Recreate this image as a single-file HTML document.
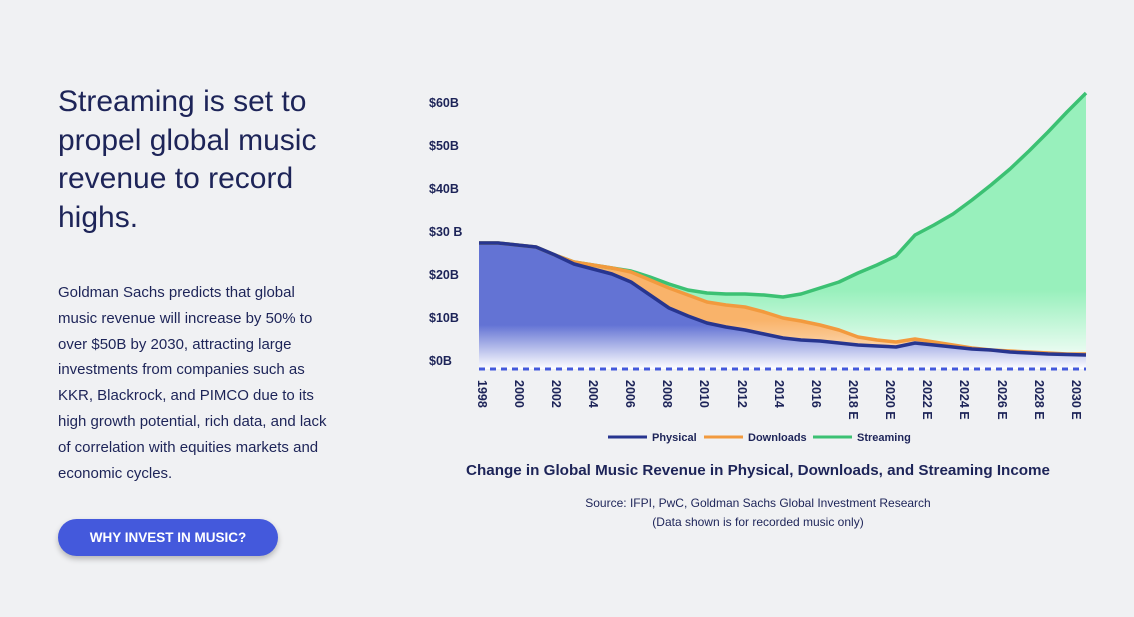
<!DOCTYPE html>
<html><head><meta charset="utf-8"><style>
body{margin:0;width:1134px;height:617px;background:#f0f1f3;font-family:"Liberation Sans",sans-serif;color:#1d2458;position:relative;overflow:hidden}
h1{position:absolute;left:58px;top:83px;margin:0;font-weight:normal;font-size:30px;line-height:38.5px;width:320px;white-space:nowrap}
p{position:absolute;left:58px;top:280px;margin:0;font-size:15px;line-height:25.8px;width:320px;white-space:nowrap}
.btn{position:absolute;left:58px;top:519px;width:220px;height:37px;border-radius:19px;background:#4459dc;color:#fff;font-weight:bold;font-size:13.5px;text-align:center;line-height:37px;box-shadow:0 3px 6px rgba(0,0,0,.25)}
svg{position:absolute;left:0;top:0}
</style></head><body>
<h1>Streaming is set to<br>propel global music<br>revenue to record<br>highs.</h1>
<p>Goldman Sachs predicts that global<br>music revenue will increase by 50% to<br>over $50B by 2030, attracting large<br>investments from companies such as<br>KKR, Blackrock, and PIMCO due to its<br>high growth potential, rich data, and lack<br>of correlation with equities markets and<br>economic cycles.</p>
<div class="btn">WHY INVEST IN MUSIC?</div>
<svg width="1134" height="617" font-family="Liberation Sans, sans-serif">
<defs>
<linearGradient id="gg" gradientUnits="userSpaceOnUse" x1="0" y1="290" x2="0" y2="369"><stop offset="0" stop-color="#98f0bc"/><stop offset="1" stop-color="#ffffff"/></linearGradient>
<linearGradient id="bg" gradientUnits="userSpaceOnUse" x1="0" y1="325" x2="0" y2="369"><stop offset="0" stop-color="#6373d4"/><stop offset="1" stop-color="#ffffff"/></linearGradient>
<linearGradient id="og" gradientUnits="userSpaceOnUse" x1="0" y1="320" x2="0" y2="360"><stop offset="0" stop-color="#f9b36a"/><stop offset="1" stop-color="#fde2c4"/></linearGradient>
</defs>
<g font-size="12.5" font-weight="bold" fill="#1d2458">
<text x="429" y="107">$60B</text><text x="429" y="150">$50B</text><text x="429" y="193">$40B</text><text x="429" y="236">$30 B</text><text x="429" y="279">$20B</text><text x="429" y="322">$10B</text><text x="429" y="365">$0B</text>
</g>
<polygon fill="url(#gg)" points="479,369 479,243 498,243 517,245 536,247 555,255 574,262 593,265 612,268 631,271 650,277 669,284 688,290 707,293 726,294 745,294 764,295 783,297 801,294 820,288 839,282 858,273 877,265 896,256 915,235 934,225 953,214 972,200 991,185 1010,169 1029,151 1048,132 1067,112 1086,93 1086,369"/>
<polygon fill="url(#og)" points="479,369 479,243 498,243 517,245 536,247 555,255 574,262 593,265 612,268 631,272 650,280 669,288 688,295 707,302 726,305 745,307 764,312 783,318 801,321 820,325 839,330 858,337 877,340 896,342 915,339 934,342 953,345 972,348 991,350 1010,351 1029,352 1048,353 1067,354 1086,354 1086,369"/>
<polygon fill="url(#bg)" points="479,369 479,243 498,243 517,245 536,247 555,255 574,264 593,269 612,274 631,282 650,295 669,308 688,316 707,323 726,327 745,330 764,334 783,338 801,340 820,341 839,343 858,345 877,346 896,347 915,343 934,345 953,347 972,349 991,350 1010,352 1029,353 1048,354 1067,354.5 1086,355 1086,369"/>
<polyline fill="none" stroke="#3cc173" stroke-width="3.5" stroke-linejoin="round" points="479,243 498,243 517,245 536,247 555,255 574,262 593,265 612,268 631,271 650,277 669,284 688,290 707,293 726,294 745,294 764,295 783,297 801,294 820,288 839,282 858,273 877,265 896,256 915,235 934,225 953,214 972,200 991,185 1010,169 1029,151 1048,132 1067,112 1086,93"/>
<polyline fill="none" stroke="#f29a3e" stroke-width="3.5" stroke-linejoin="round" points="479,243 498,243 517,245 536,247 555,255 574,262 593,265 612,268 631,272 650,280 669,288 688,295 707,302 726,305 745,307 764,312 783,318 801,321 820,325 839,330 858,337 877,340 896,342 915,339 934,342 953,345 972,348 991,350 1010,351 1029,352 1048,353 1067,354 1086,354"/>
<polyline fill="none" stroke="#27358f" stroke-width="3.5" stroke-linejoin="round" points="479,243 498,243 517,245 536,247 555,255 574,264 593,269 612,274 631,282 650,295 669,308 688,316 707,323 726,327 745,330 764,334 783,338 801,340 820,341 839,343 858,345 877,346 896,347 915,343 934,345 953,347 972,349 991,350 1010,352 1029,353 1048,354 1067,354.5 1086,355"/>
<line x1="479" y1="369" x2="1086" y2="369" stroke="#4459dc" stroke-width="3" stroke-dasharray="6,5"/>
<g font-size="12.5" font-weight="bold" fill="#1d2458">
<text transform="translate(478,380) rotate(90)">1998</text>
<text transform="translate(515,380) rotate(90)">2000</text>
<text transform="translate(552,380) rotate(90)">2002</text>
<text transform="translate(589,380) rotate(90)">2004</text>
<text transform="translate(626,380) rotate(90)">2006</text>
<text transform="translate(663,380) rotate(90)">2008</text>
<text transform="translate(700,380) rotate(90)">2010</text>
<text transform="translate(738,380) rotate(90)">2012</text>
<text transform="translate(775,380) rotate(90)">2014</text>
<text transform="translate(812,380) rotate(90)">2016</text>
<text transform="translate(849,380) rotate(90)">2018 E</text>
<text transform="translate(886,380) rotate(90)">2020 E</text>
<text transform="translate(923,380) rotate(90)">2022 E</text>
<text transform="translate(960,380) rotate(90)">2024 E</text>
<text transform="translate(998,380) rotate(90)">2026 E</text>
<text transform="translate(1035,380) rotate(90)">2028 E</text>
<text transform="translate(1072,380) rotate(90)">2030 E</text>
</g>
<g font-size="11" font-weight="bold" fill="#1d2458">
<line x1="608" y1="437" x2="647" y2="437" stroke="#27358f" stroke-width="3"/><text x="652" y="441">Physical</text>
<line x1="704" y1="437" x2="743" y2="437" stroke="#f29a3e" stroke-width="3"/><text x="748" y="441">Downloads</text>
<line x1="813" y1="437" x2="852" y2="437" stroke="#3cc173" stroke-width="3"/><text x="857" y="441">Streaming</text>
</g>
<text x="758" y="475" text-anchor="middle" font-size="15.2" font-weight="bold" fill="#1d2458">Change in Global Music Revenue in Physical, Downloads, and Streaming Income</text>
<text x="758" y="507" text-anchor="middle" font-size="12" fill="#1d2458">Source: IFPI, PwC, Goldman Sachs Global Investment Research</text>
<text x="758" y="526" text-anchor="middle" font-size="12" fill="#1d2458">(Data shown is for recorded music only)</text>
</svg>
</body></html>
